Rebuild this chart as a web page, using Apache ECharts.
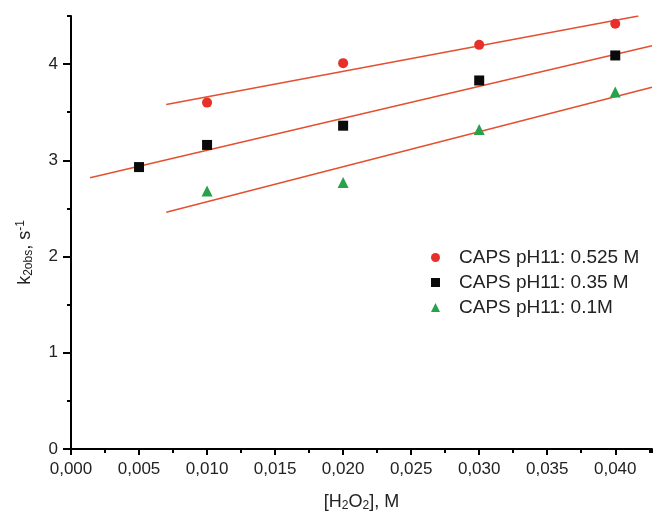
<!DOCTYPE html>
<html>
  <head>
    <title>k2obs vs H2O2</title>
    <meta charset="utf-8" />
    <script src="https://cdn.jsdelivr.net/npm/echarts@6/dist/echarts.min.js"></script>
    <style>
      body { margin: 0; background: #fff; }
    </style>
  </head>
  <body>
    <div id="main" style="width: 653px;height:514px;"></div>
    <script type="text/javascript">
    // values
    var names = ['CAPS pH11: 0.525 M', 'CAPS pH11: 0.35 M', 'CAPS pH11: 0.1M'];

    var red = [[0.010, 3.60], [0.020, 4.01], [0.030, 4.20], [0.040, 4.42]];
    var black = [[0.005, 2.93], [0.010, 3.16], [0.020, 3.36], [0.030, 3.83], [0.040, 4.09]];
    var green = [[0.010, 2.68], [0.020, 2.77], [0.030, 3.32], [0.040, 3.71]];

    // fitted lines, endpoints as drawn
    var fitRed = [[0.0070, 3.58], [0.0417, 4.50]];
    var fitBlack = [[0.0014, 2.82], [0.0427, 4.19]];
    var fitGreen = [[0.0070, 2.46], [0.0427, 3.76]];

    var xTicks = [0, 0.005, 0.010, 0.015, 0.020, 0.025, 0.030, 0.035, 0.040];
    var yTicks = [0, 1, 2, 3, 4];

    var font = '"Liberation Sans", Arial, sans-serif';
    var fitColor = '#e4502f';

    var myChart = echarts.init(document.getElementById('main'));

    function fitSeries(data) {
      return {
        type: 'line',
        data: data,
        showSymbol: false,
        symbol: 'none',
        silent: true,
        z: 1,
        lineStyle: { color: fitColor, width: 1.5 }
      };
    }

    var option = {
      backgroundColor: '#ffffff',
      animation: false,
      grid: { left: 71, top: 16, right: 1, bottom: 65, containLabel: false, outerBoundsMode: 'none' },
      legend: {
        data: [
          { name: names[0], icon: 'circle' },
          { name: names[1], icon: 'rect' },
          { name: names[2], icon: 'triangle' }
        ],
        orient: 'vertical',
        left: 426,
        top: 243,
        itemWidth: 9,
        itemHeight: 9,
        itemGap: 6,
        textStyle: { fontFamily: font, fontSize: 19, color: '#222', padding: [0, 0, 0, 14] }
      },
      xAxis: [
        {
          // minor ticks + axis line
          type: 'value', min: 0, max: 0.0427, interval: 0.0025,
          axisLine: { show: true, lineStyle: { color: '#000', width: 2 } },
          axisTick: { show: true, length: 4, lineStyle: { color: '#000', width: 2 } },
          axisLabel: { show: false },
          splitLine: { show: false },
          name: '[H{sub|2}O{sub|2}], M',
          nameLocation: 'middle',
          nameGap: 43,
          nameTextStyle: {
            fontFamily: font, fontSize: 18, color: '#222',
            rich: { sub: { fontFamily: font, fontSize: 12, color: '#222', verticalAlign: 'bottom', padding: [8, 0, 0, 0] } }
          }
        },
        {
          // major ticks + labels
          type: 'value', min: 0, max: 0.0427, position: 'bottom',
          axisLine: { show: false },
          axisTick: { show: true, length: 6, customValues: xTicks, lineStyle: { color: '#000', width: 2 } },
          axisLabel: {
            show: true, customValues: xTicks, margin: 12,
            fontFamily: font, fontSize: 17, color: '#222',
            formatter: function (v) { return v.toFixed(3).replace('.', ','); }
          },
          splitLine: { show: false }
        }
      ],
      yAxis: [
        {
          type: 'value', min: 0, max: 4.5, interval: 0.5,
          axisLine: { show: true, lineStyle: { color: '#000', width: 2 } },
          axisTick: { show: true, length: 4, lineStyle: { color: '#000', width: 2 } },
          axisLabel: { show: false },
          splitLine: { show: false },
          name: 'k{sub|2obs}, s{sup|-1}',
          nameLocation: 'middle',
          nameGap: 36,
          nameTextStyle: {
            fontFamily: font, fontSize: 18, color: '#222', padding: [0, 40, 0, 0],
            rich: {
              sub: { fontFamily: font, fontSize: 12, color: '#222', verticalAlign: 'bottom', padding: [8, 0, 0, 0] },
              sup: { fontFamily: font, fontSize: 12, color: '#222', verticalAlign: 'top', padding: [0, 0, 8, 0] }
            }
          }
        },
        {
          type: 'value', min: 0, max: 4.5, position: 'left',
          axisLine: { show: false },
          axisTick: { show: true, length: 8, customValues: yTicks, lineStyle: { color: '#000', width: 2 } },
          axisLabel: {
            show: true, customValues: yTicks, margin: 13,
            fontFamily: font, fontSize: 17, color: '#222'
          },
          splitLine: { show: false }
        }
      ],
      series: [
        fitSeries(fitRed),
        fitSeries(fitBlack),
        fitSeries(fitGreen),
        {
          name: names[0], type: 'scatter', data: red, symbol: 'circle', symbolSize: 10, z: 3,
          itemStyle: { color: '#e8302a', opacity: 1 }
        },
        {
          name: names[1], type: 'scatter', data: black, symbol: 'rect', symbolSize: 10, z: 3,
          itemStyle: { color: '#0a0a0a', opacity: 1 }
        },
        {
          name: names[2], type: 'scatter', data: green, symbol: 'triangle', symbolSize: 11, z: 3,
          itemStyle: { color: '#27a24a', opacity: 1 }
        }
      ]
    };

    myChart.setOption(option);
    </script>
  </body>
</html>
